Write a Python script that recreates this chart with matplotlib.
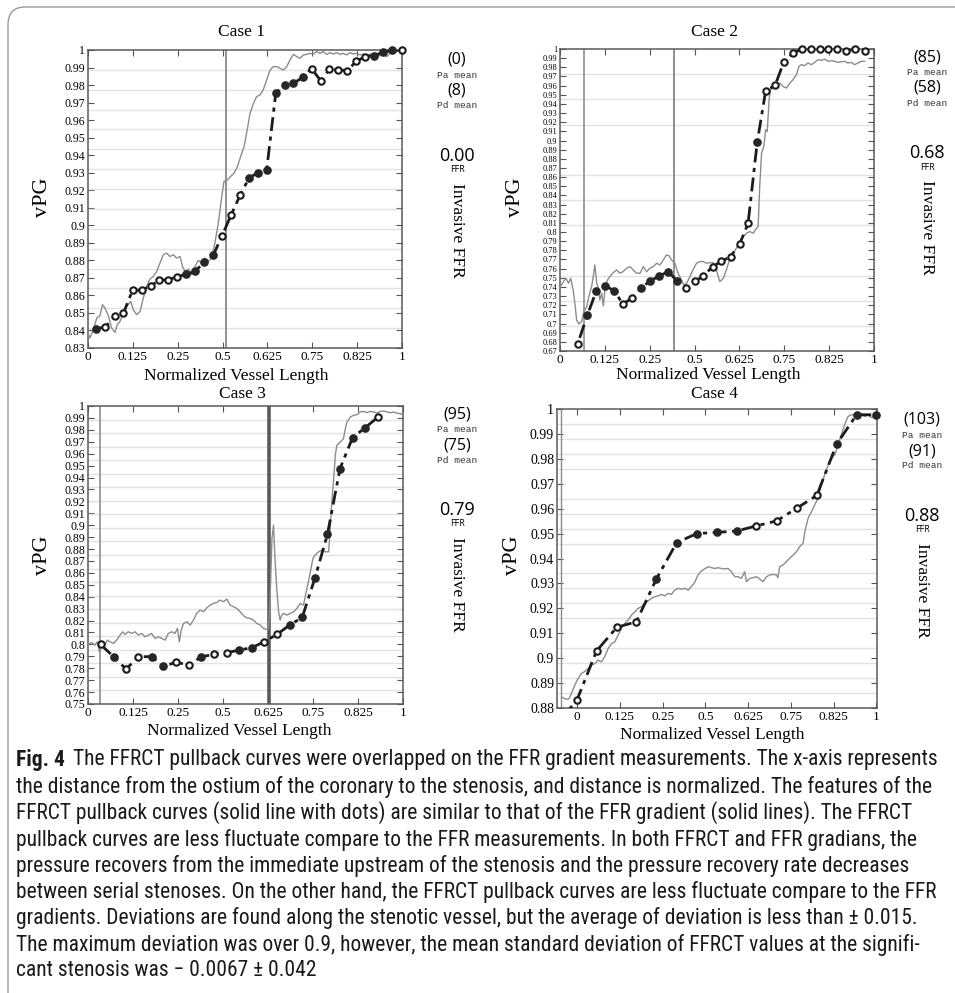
import numpy as np
import matplotlib
matplotlib.use("Agg")
import matplotlib.pyplot as plt
from matplotlib import font_manager
from matplotlib.patches import FancyBboxPatch

W, H = 955, 993

# ---------------- data ----------------
xtick_labels = ["0", "0.125", "0.25", "0.5", "0.625", "0.75", "0.825", "1"]

# Case 1
c1_gray_x = [0.000, 0.006, 0.017, 0.028, 0.038, 0.046, 0.054, 0.065, 0.075, 0.086,
             0.093, 0.102, 0.113, 0.123, 0.136, 0.144, 0.155, 0.166, 0.176, 0.187,
             0.197, 0.208, 0.219, 0.229, 0.240, 0.251, 0.261, 0.272, 0.282, 0.293,
             0.301, 0.309, 0.320, 0.330, 0.341, 0.351, 0.362, 0.373, 0.383, 0.394,
             0.404, 0.415, 0.426, 0.433, 0.444, 0.454, 0.465, 0.476, 0.486, 0.497,
             0.507, 0.516, 0.527, 0.537, 0.548, 0.558, 0.569, 0.580, 0.590, 0.601,
             0.611, 0.622, 0.633, 0.643, 0.654, 0.665, 0.675, 0.686, 0.696, 0.707,
             0.718, 0.728, 0.739, 0.749, 0.760, 0.771, 0.781, 0.792, 0.803, 0.813,
             0.824, 0.834, 0.845, 0.856, 0.866, 0.877, 0.887, 0.898, 0.909, 0.919,
             0.930, 0.941, 0.951, 0.962, 0.972, 0.983, 0.994]
c1_gray_y = [0.8386, 0.8357, 0.8405, 0.8471, 0.8484, 0.8547, 0.8528, 0.8484, 0.8414, 0.8389,
             0.8433, 0.8452, 0.8500, 0.8538, 0.8566, 0.8519, 0.8490, 0.8509, 0.8585, 0.8651,
             0.8693, 0.8708, 0.8737, 0.8784, 0.8832, 0.8841, 0.8822, 0.8832, 0.8813, 0.8822,
             0.8765, 0.8737, 0.8750, 0.8718, 0.8765, 0.8800, 0.8784, 0.8813, 0.8794, 0.8817,
             0.8898, 0.9012, 0.9164, 0.9250, 0.9259, 0.9278, 0.9297, 0.9335, 0.9392, 0.9449,
             0.9544, 0.9639, 0.9696, 0.9734, 0.9744, 0.9772, 0.9829, 0.9886, 0.9905, 0.9905,
             0.9896, 0.9886, 0.9905, 0.9943, 0.9975, 0.9962, 0.9953, 0.9972, 0.9975, 0.9981,
             0.9977, 0.9991, 0.9981, 0.9991, 0.9975, 0.9985, 0.9977, 0.9985, 0.9975, 0.9981,
             0.9972, 0.9985, 0.9977, 0.9981, 0.9972, 0.9977, 0.9966, 0.9977, 0.9972, 0.9981,
             0.9966, 0.9977, 0.9962, 0.9981, 0.9985, 0.9991, 0.9996]
c1_ct_x = [0.027, 0.055, 0.085, 0.113, 0.142, 0.171, 0.200, 0.227, 0.256, 0.285,
           0.312, 0.341, 0.370, 0.399, 0.427, 0.455, 0.484, 0.513, 0.541, 0.569,
           0.598, 0.626, 0.654, 0.684, 0.712, 0.741, 0.769, 0.797, 0.826, 0.855,
           0.883, 0.911, 0.940, 0.969, 0.999]
c1_ct_y = [0.841, 0.842, 0.848, 0.850, 0.863, 0.863, 0.8655, 0.8686, 0.869, 0.8707,
           0.872, 0.8737, 0.879, 0.883, 0.894, 0.9056, 0.917, 0.927, 0.930, 0.9316,
           0.9753, 0.980, 0.981, 0.9844, 0.9894, 0.9825, 0.989, 0.9886, 0.9882, 0.9937,
           0.9962, 0.9968, 0.9987, 0.9998, 1.0]
c1_filled = [1, 0, 0, 0, 0, 0, 0, 0, 0, 0, 1, 1, 1, 1, 0, 0, 0, 1, 1, 1,
             1, 1, 1, 1, 0, 0, 0, 0, 0, 0, 0, 1, 1, 1, 0]
c1_vlines = [0.44]

# Case 2
c2_gray_x = [0.000, 0.011, 0.019, 0.027, 0.034, 0.042, 0.048, 0.053, 0.060, 0.069,
             0.076, 0.085, 0.093, 0.101, 0.106, 0.111, 0.117, 0.122, 0.127, 0.133,
             0.138, 0.143, 0.151, 0.159, 0.168, 0.180, 0.191, 0.201, 0.212, 0.223,
             0.233, 0.244, 0.255, 0.265, 0.276, 0.286, 0.297, 0.308, 0.318, 0.329,
             0.339, 0.348, 0.355, 0.366, 0.376, 0.387, 0.394, 0.403, 0.414, 0.424,
             0.435, 0.445, 0.456, 0.467, 0.477, 0.488, 0.498, 0.509, 0.520, 0.530,
             0.541, 0.551, 0.562, 0.573, 0.583, 0.594, 0.604, 0.615, 0.626, 0.631,
             0.636, 0.642, 0.649, 0.655, 0.660, 0.666, 0.670, 0.679, 0.689, 0.700,
             0.710, 0.721, 0.732, 0.742, 0.753, 0.761, 0.769, 0.779, 0.790, 0.801,
             0.811, 0.822, 0.832, 0.843, 0.854, 0.864, 0.875, 0.885, 0.896, 0.907,
             0.917, 0.928, 0.938, 0.949, 0.960, 0.970]
c2_gray_y = [0.7396, 0.7458, 0.7495, 0.7440, 0.7495, 0.7367, 0.7203, 0.7039, 0.6995, 0.7020,
             0.7130, 0.7185, 0.7312, 0.7411, 0.7513, 0.7640, 0.7440, 0.7385, 0.7257, 0.7330,
             0.7192, 0.7367, 0.7476, 0.7513, 0.7550, 0.7586, 0.7550, 0.7567, 0.7604, 0.7622,
             0.7586, 0.7550, 0.7550, 0.7622, 0.7567, 0.7604, 0.7622, 0.7659, 0.7640, 0.7695,
             0.7750, 0.7739, 0.7695, 0.7659, 0.7550, 0.7476, 0.7422, 0.7440, 0.7513, 0.7593,
             0.7659, 0.7677, 0.7677, 0.7659, 0.7665, 0.7665, 0.7586, 0.7458, 0.7495, 0.7586,
             0.7713, 0.7768, 0.7823, 0.7896, 0.7950, 0.7987, 0.8005, 0.7987, 0.8042, 0.8060,
             0.8497, 0.8862, 0.8935, 0.9117, 0.9099, 0.9446, 0.9555, 0.9573, 0.9592, 0.9628,
             0.9592, 0.9573, 0.9628, 0.9664, 0.9719, 0.9810, 0.9829, 0.9818, 0.9847, 0.9829,
             0.9854, 0.9883, 0.9876, 0.9891, 0.9865, 0.9872, 0.9865, 0.9854, 0.9861, 0.9865,
             0.9847, 0.9854, 0.9829, 0.9847, 0.9865, 0.9865]
c2_ct_x = [0.027, 0.056, 0.087, 0.116, 0.144, 0.173, 0.201, 0.230, 0.259, 0.287,
           0.316, 0.345, 0.373, 0.402, 0.431, 0.457, 0.486, 0.514, 0.543, 0.572,
           0.599, 0.628, 0.655, 0.685, 0.713, 0.742, 0.771, 0.800, 0.827, 0.855,
           0.883, 0.912, 0.941, 0.970]
c2_ct_y = [0.655, 0.6776, 0.709, 0.736, 0.7414, 0.7356, 0.721, 0.7283, 0.7392, 0.7465,
           0.752, 0.7567, 0.7465, 0.7392, 0.7465, 0.752, 0.7622, 0.768, 0.7732, 0.7867,
           0.8096, 0.8979, 0.9544, 0.9602, 0.9861, 0.9956, 1.0, 1.0, 1.0, 1.0,
           1.0, 0.9982, 1.0, 0.9982]
c2_filled = [0, 0, 1, 1, 1, 1, 0, 0, 1, 1, 1, 1, 1, 0, 0, 0, 0, 0, 0, 0,
             0, 1, 0, 0, 0, 0, 0, 0, 0, 0, 0, 0, 0, 0]
c2_vlines = [0.075, 0.364]

# Case 3
c3_gray_x = [0.000, 0.012, 0.022, 0.030, 0.036, 0.043, 0.054, 0.061, 0.070, 0.081,
             0.091, 0.102, 0.110, 0.118, 0.128, 0.139, 0.149, 0.160, 0.171, 0.181,
             0.192, 0.202, 0.213, 0.224, 0.234, 0.245, 0.255, 0.266, 0.276, 0.284,
             0.290, 0.296, 0.303, 0.314, 0.324, 0.335, 0.345, 0.356, 0.367, 0.377,
             0.388, 0.398, 0.409, 0.419, 0.430, 0.441, 0.451, 0.462, 0.472, 0.483,
             0.494, 0.504, 0.515, 0.525, 0.536, 0.547, 0.557, 0.568, 0.573, 0.578,
             0.584, 0.589, 0.594, 0.600, 0.605, 0.610, 0.615, 0.621, 0.631, 0.642,
             0.653, 0.663, 0.674, 0.684, 0.695, 0.706, 0.714, 0.721, 0.732, 0.743,
             0.753, 0.764, 0.769, 0.774, 0.780, 0.785, 0.790, 0.801, 0.811, 0.817,
             0.822, 0.833, 0.843, 0.854, 0.864, 0.875, 0.886, 0.896, 0.907, 0.917,
             0.928, 0.939, 0.949, 0.960, 0.970, 0.981, 0.992, 1.000]
c3_gray_y = [0.8000, 0.8017, 0.7994, 0.8022, 0.7939, 0.8008, 0.7994, 0.8036, 0.8022, 0.8008,
             0.8036, 0.8078, 0.8106, 0.8084, 0.8106, 0.8092, 0.8106, 0.8078, 0.8092, 0.8064,
             0.8078, 0.8092, 0.8050, 0.8064, 0.8050, 0.8036, 0.8092, 0.8106, 0.8092, 0.8134,
             0.8022, 0.8120, 0.8176, 0.8190, 0.8162, 0.8204, 0.8260, 0.8288, 0.8274, 0.8307,
             0.8330, 0.8344, 0.8352, 0.8372, 0.8358, 0.8380, 0.8330, 0.8316, 0.8302, 0.8274,
             0.8240, 0.8223, 0.8218, 0.8204, 0.8176, 0.8162, 0.8134, 0.8126, 0.8128, 0.8385,
             0.8888, 0.9000, 0.8693, 0.8441, 0.8274, 0.8204, 0.8246, 0.8260, 0.8246, 0.8260,
             0.8274, 0.8302, 0.8344, 0.8330, 0.8469, 0.8609, 0.8721, 0.8749, 0.8777, 0.8791,
             0.8777, 0.8777, 0.8972, 0.9196, 0.9391, 0.9587, 0.9670, 0.9698, 0.9726, 0.9810,
             0.9866, 0.9908, 0.9922, 0.9927, 0.9950, 0.9955, 0.9944, 0.9955, 0.9950, 0.9941,
             0.9955, 0.9958, 0.9950, 0.9944, 0.9950, 0.9939, 0.9936, 0.9927]
c3_ct_x = [0.040, 0.081, 0.121, 0.160, 0.202, 0.239, 0.280, 0.321, 0.360, 0.401,
           0.441, 0.480, 0.520, 0.559, 0.600, 0.640, 0.680, 0.720, 0.760, 0.800,
           0.840, 0.879, 0.921]
c3_ct_y = [0.800, 0.7897, 0.7793, 0.7897, 0.7897, 0.7818, 0.7849, 0.7827, 0.7897, 0.7916,
           0.793, 0.7953, 0.7972, 0.8022, 0.8084, 0.8162, 0.8226, 0.8553, 0.8922, 0.9475,
           0.9735, 0.9816, 0.9908]
c3_filled = [0, 1, 0, 0, 1, 1, 0, 0, 1, 0, 0, 1, 1, 0, 0, 1, 1, 1, 1, 1, 1, 1, 0]
c3_vlines = [0.038, 0.576]

# Case 4
c4_gray_x = [-0.052, -0.041, -0.030, -0.024, -0.019, -0.008, 0.003, 0.014, 0.026, 0.037,
             0.048, 0.059, 0.070, 0.081, 0.092, 0.104, 0.115, 0.126, 0.137, 0.148,
             0.159, 0.170, 0.182, 0.193, 0.204, 0.215, 0.226, 0.237, 0.248, 0.259,
             0.271, 0.282, 0.293, 0.304, 0.315, 0.326, 0.337, 0.349, 0.360, 0.371,
             0.382, 0.393, 0.404, 0.415, 0.426, 0.438, 0.449, 0.460, 0.471, 0.482,
             0.493, 0.504, 0.516, 0.527, 0.538, 0.549, 0.560, 0.566, 0.577, 0.588,
             0.599, 0.610, 0.621, 0.633, 0.644, 0.655, 0.666, 0.671, 0.677, 0.688,
             0.699, 0.710, 0.722, 0.733, 0.744, 0.755, 0.761, 0.772, 0.783, 0.794,
             0.805, 0.816, 0.827, 0.839, 0.850, 0.861, 0.872, 0.883, 0.894, 0.905,
             0.916, 0.928, 0.944, 0.961, 0.972, 0.983, 0.994, 1.000]
c4_gray_y = [0.8844, 0.8837, 0.8835, 0.8844, 0.8858, 0.8891, 0.8918, 0.8938, 0.8947, 0.8958,
             0.8972, 0.8978, 0.8992, 0.8985, 0.9005, 0.9039, 0.9059, 0.9065, 0.9092, 0.9119,
             0.9139, 0.9153, 0.9173, 0.9186, 0.9200, 0.9206, 0.9220, 0.9229, 0.9240, 0.9246,
             0.9250, 0.9256, 0.9250, 0.9260, 0.9256, 0.9273, 0.9280, 0.9277, 0.9280, 0.9273,
             0.9287, 0.9304, 0.9334, 0.9350, 0.9358, 0.9367, 0.9363, 0.9360, 0.9363, 0.9360,
             0.9358, 0.9360, 0.9347, 0.9327, 0.9327, 0.9320, 0.9347, 0.9307, 0.9320, 0.9323,
             0.9327, 0.9318, 0.9307, 0.9327, 0.9334, 0.9336, 0.9334, 0.9323, 0.9367, 0.9374,
             0.9387, 0.9401, 0.9414, 0.9427, 0.9448, 0.9461, 0.9508, 0.9562, 0.9588, 0.9615,
             0.9642, 0.9696, 0.9736, 0.9776, 0.9803, 0.9816, 0.9857, 0.9897, 0.9937, 0.9970,
             0.9977, 0.9977, 0.9980, 0.9970, 0.9975, 0.9966, 0.9970, 0.9975]
c4_ct_x = [-0.067, 0.000, 0.065, 0.133, 0.198, 0.265, 0.333, 0.400, 0.467, 0.533,
           0.599, 0.667, 0.734, 0.801, 0.867, 0.934, 0.998]
c4_ct_y = [0.8735, 0.8833, 0.9029, 0.9124, 0.9146, 0.9318, 0.9464, 0.9500, 0.9505, 0.9510,
           0.9531, 0.9551, 0.9602, 0.9653, 0.9859, 0.9977, 0.9977]
c4_filled = [0, 0, 0, 0, 0, 1, 1, 1, 1, 1, 0, 0, 0, 0, 1, 1, 1]
c4_vlines = []

side_texts = [("(0)", "(8)", "0.00"), ("(85)", "(58)", "0.68"),
              ("(95)", "(75)", "0.79"), ("(103)", "(91)", "0.88")]

caption = [
    "The FFRCT pullback curves were overlapped on the FFR gradient measurements. The x-axis represents",
    "the distance from the ostium of the coronary to the stenosis, and distance is normalized. The features of the",
    "FFRCT pullback curves (solid line with dots) are similar to that of the FFR gradient (solid lines). The FFRCT",
    "pullback curves are less fluctuate compare to the FFR measurements. In both FFRCT and FFR gradians, the",
    "pressure recovers from the immediate upstream of the stenosis and the pressure recovery rate decreases",
    "between serial stenoses. On the other hand, the FFRCT pullback curves are less fluctuate compare to the FFR",
    "gradients. Deviations are found along the stenotic vessel, but the average of deviation is less than \u00b1 0.015.",
    "The maximum deviation was over 0.9, however, the mean standard deviation of FFRCT values at the signifi-",
    "cant stenosis was \u2212 0.0067 \u00b1 0.042",
]


def pick_font(names):
    for n in names:
        try:
            font_manager.findfont(n, fallback_to_default=False)
            return n
        except Exception:
            pass
    return "DejaVu Sans"


SERIF = pick_font(["Liberation Serif", "DejaVu Serif"])
MONO = pick_font(["Liberation Mono", "DejaVu Sans Mono"])
SANS = pick_font(["Open Sans", "DejaVu Sans"])
CAP = pick_font(["Liberation Sans Narrow", "Roboto Condensed", "Open Sans", "DejaVu Sans"])

fig = plt.figure(figsize=(W / 100, H / 100), dpi=100)


def fx(px):
    return px / W


def fy(py):
    return 1 - py / H


# rounded frame around the figure
frame = FancyBboxPatch((fx(8), fy(1010)), fx(980), 1003 / H,
                       boxstyle="round,pad=0,rounding_size=0.018",
                       transform=fig.transFigure, fill=False,
                       ec="#9a9a9a", lw=1.0, clip_on=False)
fig.patches.append(frame)


def panel(rect, title, gx, gy, cx, cy, filled, vlines, ylim, xlim, ytick_fs,
          ngrid, yticks, title_xy, xlabel_xy, ylabel_xy, side_x, side_y, side):
    l, t, r, b = rect
    ax = fig.add_axes([fx(l), fy(b), fx(r - l), (b - t) / H])
    ax.set_xlim(*xlim)
    ax.set_ylim(*ylim)

    # MATLAB-like light horizontal grid
    ax.set_yticks(np.linspace(ylim[0], ylim[1], ngrid), minor=True)
    ax.grid(which="minor", axis="y", color="#e2e2e2", lw=1.0)
    ax.tick_params(which="minor", length=0)

    for v in vlines:
        ax.axvline(v, color="#8f8f8f", lw=1.4, zorder=2)

    ax.plot(gx, gy, color="#8c8c8c", lw=1.0, zorder=3)
    ax.plot(cx, cy, color="#1c1c1c", lw=2.0, dashes=(5, 2, 1.5, 2), zorder=4)
    cx = np.asarray(cx)
    cy = np.asarray(cy)
    f = np.asarray(filled, dtype=bool)
    inside = (cy >= ylim[0]) & (cy <= ylim[1]) & (cx >= xlim[0]) & (cx <= xlim[1])
    ax.plot(cx[f & inside], cy[f & inside], "o", ms=5.2, mfc="#262626", mec="#262626",
            mew=1.0, zorder=5, clip_on=False)
    ax.plot(cx[~f & inside], cy[~f & inside], "o", ms=4.6, mfc="white", mec="#1c1c1c",
            mew=1.5, zorder=5, clip_on=False)

    ax.set_xticks(np.linspace(0, 1, 8))
    ax.set_xticklabels(xtick_labels, family=SERIF, fontsize=9.5)
    ax.set_yticks(yticks)
    ax.set_yticklabels(["%g" % round(v, 2) for v in yticks], family=SERIF,
                       fontsize=ytick_fs)
    ax.tick_params(which="major", direction="in", length=4, width=0.8,
                   color="#555555", top=True, right=True, pad=2)
    for s in ax.spines.values():
        s.set_color("#5a5a5a")
        s.set_linewidth(1.1)

    fig.text(fx(title_xy[0]), fy(title_xy[1]), title, family=SERIF, fontsize=12.5,
             ha="center", va="center")
    fig.text(fx(xlabel_xy[0]), fy(xlabel_xy[1]), "Normalized Vessel Length",
             family=SERIF, fontsize=12.5, ha="center", va="center")
    fig.text(fx(ylabel_xy[0]), fy(ylabel_xy[1]), "vPG", family=SERIF, fontsize=16,
             rotation=90, ha="center", va="center")

    pa, pd, ffr = side
    fig.text(fx(side_x), fy(side_y), pa, family=SANS, fontsize=11.5, ha="center", va="center")
    fig.text(fx(side_x), fy(side_y + 15), "Pa mean", family=MONO, fontsize=6.8,
             ha="center", va="center", color="#333333")
    fig.text(fx(side_x), fy(side_y + 31), pd, family=SANS, fontsize=11.5, ha="center", va="center")
    fig.text(fx(side_x), fy(side_y + 46), "Pd mean", family=MONO, fontsize=6.8,
             ha="center", va="center", color="#333333")
    fig.text(fx(side_x), fy(side_y + 96), ffr, family=SANS, fontsize=13,
             ha="center", va="center")
    fig.text(fx(side_x), fy(side_y + 110), "FFR", family=SANS, fontsize=6.5,
             ha="center", va="center")
    fig.text(fx(side_x), fy(side_y + 170), "Invasive FFR", family=SERIF, fontsize=12.5,
             rotation=270, ha="center", va="center")
    return ax


ax1 = panel((88, 50, 402, 348), "Case 1", c1_gray_x, c1_gray_y, c1_ct_x, c1_ct_y,
            c1_filled, c1_vlines, (0.83, 1.0), (0, 1), 8.5, 16,
            np.round(np.arange(0.83, 1.0001, 0.01), 2),
            (242, 32), (236, 376), (42, 197), 457, 60, side_texts[0])
ax2 = panel((560, 49, 874, 351), "Case 2", c2_gray_x, c2_gray_y, c2_ct_x, c2_ct_y,
            c2_filled, c2_vlines, (0.67, 1.0), (0, 1), 6.0, 13,
            np.round(np.arange(0.67, 1.0001, 0.01), 2),
            (714, 32), (708, 375), (515, 197), 927, 57, side_texts[1])
ax3 = panel((88, 406, 403, 704), "Case 3", c3_gray_x, c3_gray_y, c3_ct_x, c3_ct_y,
            c3_filled, c3_vlines, (0.75, 1.0), (0, 1), 8.5, 23,
            np.round(np.arange(0.75, 1.0001, 0.01), 2),
            (242, 394), (239, 731), (42, 555), 457, 414, side_texts[2])
ax4 = panel((557, 409, 877, 708), "Case 4", c4_gray_x, c4_gray_y, c4_ct_x, c4_ct_y,
            c4_filled, c4_vlines, (0.88, 1.0), (-0.067, 1.002), 10, 21,
            np.round(np.arange(0.88, 1.0001, 0.01), 2),
            (714, 394), (712, 735), (512, 555), 922, 420, side_texts[3])

# special vertical lines
ax3.lines[1].set_color("#5a5a5a")
ax3.lines[1].set_linewidth(2.6)
ax3.lines[0].set_linewidth(1.2)
ax2.lines[1].set_color("#7a7a7a")
ax2.lines[0].set_linewidth(1.2)
ax2.lines[1].set_linewidth(1.2)
ax4.axvline(-0.055, color="#8a8a8a", lw=1.0, zorder=2)

# ---------------- caption ----------------
cap_x0, cap_x1 = 16, 940
cap_y = [760, 787, 813, 840, 866, 892, 918, 945, 971]
fs = 12.0
bold = fig.text(fx(cap_x0), fy(cap_y[0]), "Fig. 4", family=CAP, weight="bold",
                fontsize=fs, ha="left", va="center", color="#1a1a1a")
lines = []
for i, s in enumerate(caption):
    lines.append(fig.text(fx(cap_x0), fy(cap_y[i]), s, family=CAP, fontsize=fs,
                          ha="left", va="center", color="#1a1a1a"))

renderer = fig.canvas.get_renderer()


def layout(size):
    bold.set_fontsize(size)
    for t in lines:
        t.set_fontsize(size)
    bw = bold.get_window_extent(renderer).width
    lines[0].set_x(fx(cap_x0 + bw + size * 0.55))
    e = lines[0].get_window_extent(renderer)
    return e.x1


for _ in range(3):
    right = layout(fs)
    fs = fs * (cap_x1 - cap_x0) / (right - cap_x0)
layout(fs)

fig.savefig("out.png", dpi=100)
